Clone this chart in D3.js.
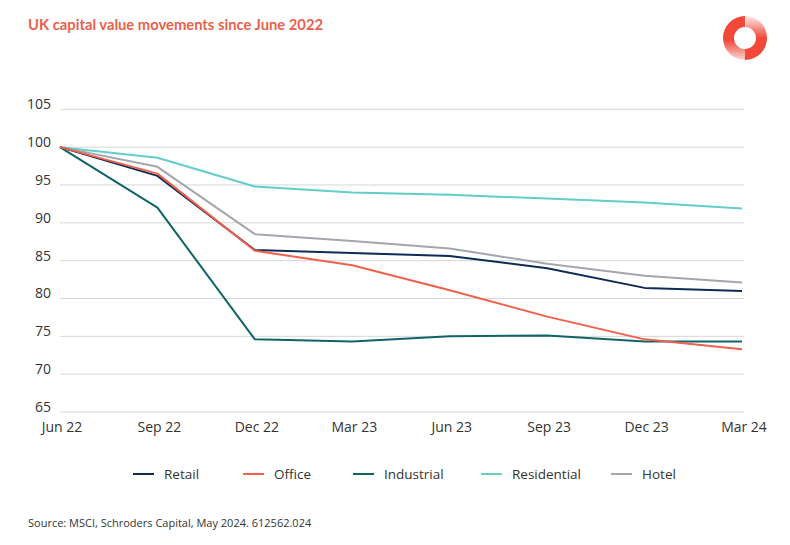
<!DOCTYPE html>
<html><head><meta charset="utf-8">
<script src="https://cdn.jsdelivr.net/npm/d3@7"></script>
<style>body{margin:0;background:#fff;font-family:"Open Sans",sans-serif;}</style>
</head><body><svg id="c" width="790" height="545"></svg>
<script>
const categories = ["Jun 22","Sep 22","Dec 22","Mar 23","Jun 23","Sep 23","Dec 23","Mar 24"];
const retail      = [100, 96.2, 86.4, 86.0, 85.6, 84.0, 81.4, 81.0];
const office      = [100, 96.5, 86.3, 84.4, 81.1, 77.6, 74.6, 73.3];
const industrial  = [100, 92.0, 74.6, 74.3, 75.0, 75.1, 74.3, 74.3];
const residential = [100, 98.6, 94.8, 94.0, 93.7, 93.2, 92.7, 91.9];
const hotel       = [100, 97.4, 88.5, 87.6, 86.6, 84.6, 83.0, 82.1];
const yTicks = [65,70,75,80,85,90,95,100,105];
const seriesNames = ["Retail","Office","Industrial","Residential","Hotel"];
const seriesColors = ["#0d2b55","#f0604b","#0f6468","#62cdcb","#a3a7ad"];
const seriesData = [retail, office, industrial, residential, hotel];

const svg = d3.select("#c");
const x = d3.scalePoint().domain(categories).range([60, 742]);
const y = d3.scaleLinear().domain([65,105]).range([412, 109.3]);

svg.append("text").attr("x",28).attr("y",30).attr("fill","#ea5f4b")
  .attr("font-size",15).attr("font-weight",700).attr("font-family","Lato, 'Open Sans', sans-serif")
  .attr("textLength",295).attr("lengthAdjust","spacingAndGlyphs")
  .text("UK capital value movements since June 2022");

// logo
const defs = svg.append("defs");
const g1 = defs.append("linearGradient").attr("id","gl").attr("x1",0).attr("y1",0).attr("x2",0).attr("y2",1);
g1.append("stop").attr("offset","0%").attr("stop-color","#f2483a");
g1.append("stop").attr("offset","55%").attr("stop-color","#f2483a");
g1.append("stop").attr("offset","100%").attr("stop-color","#fbd8d4");
const g2 = defs.append("linearGradient").attr("id","gr").attr("x1",0).attr("y1",0).attr("x2",0).attr("y2",1);
g2.append("stop").attr("offset","0%").attr("stop-color","#feeae8");
g2.append("stop").attr("offset","50%").attr("stop-color","#f2483a");
g2.append("stop").attr("offset","100%").attr("stop-color","#f2483a");
const arc = d3.arc().innerRadius(11).outerRadius(22);
const logo = svg.append("g").attr("transform","translate(745,38)");
logo.append("path").attr("d", arc({startAngle:Math.PI, endAngle:2*Math.PI})).attr("fill","url(#gl)");
logo.append("path").attr("d", arc({startAngle:0.03, endAngle:Math.PI})).attr("fill","url(#gr)");

// grid
const grid = svg.append("g");
grid.selectAll("line").data(yTicks).join("line")
  .attr("x1",60).attr("x2",744).attr("y1",d=>y(d)).attr("y2",d=>y(d))
  .attr("stroke","#d6d6d6").attr("stroke-width",1);

// y axis
const yAxis = svg.append("g").attr("transform","translate(51,-5)")
  .call(d3.axisLeft(y).tickValues(yTicks).tickSize(0).tickPadding(0));
yAxis.select(".domain").remove();
yAxis.selectAll("text").attr("font-size",14).attr("fill","#333").attr("font-family","'Open Sans',sans-serif");

// x axis
const xAxis = svg.append("g").attr("transform","translate(1.5,422)")
  .call(d3.axisBottom(x).tickSize(0).tickPadding(0));
xAxis.select(".domain").remove();
xAxis.selectAll("text").attr("font-size",14).attr("fill","#333").attr("font-family","'Open Sans',sans-serif");

// lines
const line = d3.line().x((d,i)=>x(categories[i])).y(d=>y(d));
const order = [3,4,0,2,1];
order.forEach(k=>{
  svg.append("path").attr("d",line(seriesData[k])).attr("fill","none")
    .attr("stroke",seriesColors[k]).attr("stroke-width",2).attr("stroke-linejoin","round");
});

// legend
const legX = [133,243,353,481,611];
const leg = svg.append("g");
seriesNames.forEach((n,i)=>{
  leg.append("line").attr("x1",legX[i]).attr("x2",legX[i]+21).attr("y1",474).attr("y2",474)
    .attr("stroke",seriesColors[i]).attr("stroke-width",2);
  leg.append("text").attr("x",legX[i]+31).attr("y",479).attr("font-size",13.5).attr("fill","#333").text(n);
});

svg.append("text").attr("x",28).attr("y",527).attr("font-size",11).attr("fill","#333")
  .text("Source: MSCI, Schroders Capital, May 2024. 612562.024");
</script></body></html>
